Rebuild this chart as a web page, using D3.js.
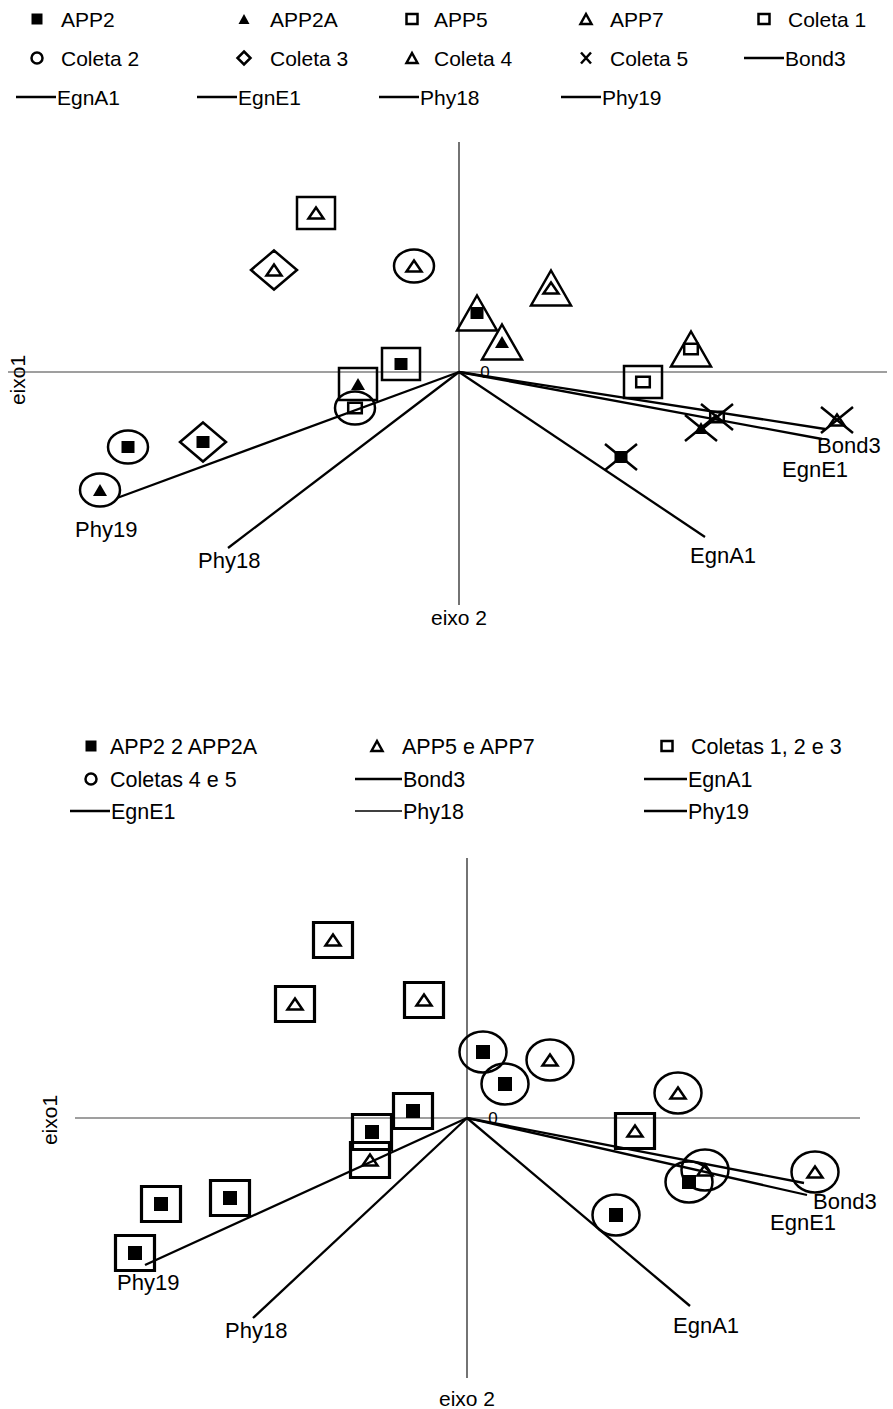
<!DOCTYPE html>
<html><head><meta charset="utf-8">
<script src="https://cdn.jsdelivr.net/npm/d3@7"></script>
<style>html,body{margin:0;padding:0;background:#fff}svg{display:block}text{font-family:"Liberation Sans",Arial,sans-serif;fill:#000}</style>
</head><body>
<script>
// ---------- DATA ----------
// top biplot: samples (inner marker = sample type, outer marker = collection)
const topSample = ["APP7","APP2","APP2A","APP5", "APP7","APP5","APP2","APP2A", "APP7","APP2", "APP2","APP2A","APP7","APP5", "APP2","APP5","APP2A","APP7"];
const topColeta = ["Coleta 1","Coleta 1","Coleta 1","Coleta 1", "Coleta 2","Coleta 2","Coleta 2","Coleta 2", "Coleta 3","Coleta 3", "Coleta 4","Coleta 4","Coleta 4","Coleta 4", "Coleta 5","Coleta 5","Coleta 5","Coleta 5"];
const topEixo2 = [-1.43,-0.58,-1.01,1.84, -0.45,-1.04,-3.31,-3.59, -1.85,-2.56, 0.18,0.43,0.92,2.32, 1.62,2.58,2.42,3.78];
const topEixo1 = [1.59,0.08,-0.12,-0.10, 1.06,-0.36,-0.75,-1.18, 1.02,-0.70, 0.59,0.30,0.84,0.23, -0.85,-0.45,-0.56,-0.48];

// variable vectors
const vecNames = ["Bond3","EgnA1","EgnE1","Phy18","Phy19"];
const topVecX = [3.66, 2.46, 3.63, -2.31, -3.42];
const topVecY = [-0.57, -1.65, -0.67, -1.76, -1.26];

// bottom biplot
const botSample = ["APP7","APP7","APP7","APP2","APP2","APP7","APP2","APP2","APP2","APP7", "APP2","APP2","APP7","APP7","APP7","APP2","APP7","APP2"];
const botGroup = ["Coletas 1, 2 e 3","Coletas 1, 2 e 3","Coletas 1, 2 e 3","Coletas 1, 2 e 3","Coletas 1, 2 e 3","Coletas 1, 2 e 3","Coletas 1, 2 e 3","Coletas 1, 2 e 3","Coletas 1, 2 e 3","Coletas 1, 2 e 3",
                  "Coletas 4 e 5","Coletas 4 e 5","Coletas 4 e 5","Coletas 4 e 5","Coletas 4 e 5","Coletas 4 e 5","Coletas 4 e 5","Coletas 4 e 5"];
const botEixo2 = [-1.34,-1.72,-0.43,-0.54,-0.95,-0.97,-2.37,-3.06,-3.32,1.68, 0.16,0.38,0.83,2.11,2.38,2.22,3.48,1.49];
const botEixo1 = [1.78,1.14,1.18,0.07,-0.14,-0.42,-0.80,-0.86,-1.35,-0.13, 0.66,0.34,0.58,0.25,-0.52,-0.64,-0.54,-0.97];
const botVecX = [3.37, 2.23, 3.40, -2.14, -3.22];
const botVecY = [-0.65, -1.88, -0.77, -2.00, -1.47];

// legends
const topLegendLabels = ["APP2","APP2A","APP5","APP7","Coleta 1","Coleta 2","Coleta 3","Coleta 4","Coleta 5","Bond3","EgnA1","EgnE1","Phy18","Phy19"];
const botLegendLabels = ["APP2 2 APP2A","APP5 e APP7","Coletas 1, 2 e 3","Coletas 4 e 5","Bond3","EgnA1","EgnE1","Phy18","Phy19"];
const axisLabels = ["eixo1","eixo 2","0"];

// ---------- DRAWING ----------
const W = 893, H = 1409;
const svg = d3.select("body").append("svg").attr("width", W).attr("height", H);
svg.append("rect").attr("width", W).attr("height", H).attr("fill", "#fff");

function shapePath(kind, w, h) {
  switch (kind) {
    case "square": return `M${-w},${-h}H${w}V${h}H${-w}Z`;
    case "tri": return `M0,${-h}L${w},${h}L${-w},${h}Z`;
    case "diamond": return `M0,${-h}L${w},0L0,${h}L${-w},0Z`;
    case "x": return `M${-w},${-h}L${w},${h}M${w},${-h}L${-w},${h}`;
  }
}
function drawShape(g, spec) {
  if (spec.kind === "circle") {
    g.append("ellipse").attr("rx", spec.w).attr("ry", spec.h)
      .attr("fill", spec.fill ? "#000" : "none").attr("stroke", "#000").attr("stroke-width", spec.sw || 0);
  } else {
    g.append("path").attr("d", shapePath(spec.kind, spec.w, spec.h))
      .attr("fill", spec.fill ? "#000" : "none").attr("stroke", "#000")
      .attr("stroke-width", spec.sw || 0).attr("stroke-linejoin", "miter");
  }
}

// marker specs
const innerTop = {
  "APP2": {kind:"square", w:6.5, h:6, fill:true},
  "APP2A": {kind:"tri", w:7, h:6, fill:true},
  "APP5": {kind:"square", w:6.8, h:5.3, sw:2.5},
  "APP7": {kind:"tri", w:7.5, h:5.5, sw:2.5}
};
const outerTop = {
  "Coleta 1": {kind:"square", w:19, h:16, sw:2.5},
  "Coleta 2": {kind:"circle", w:20, h:16.5, sw:2.5},
  "Coleta 3": {kind:"diamond", w:23, h:19.5, sw:2.5},
  "Coleta 4": {kind:"tri", w:20, h:17.5, sw:2.5},
  "Coleta 5": {kind:"x", w:16, h:13, sw:2.5}
};
const innerBot = {
  "APP2": {kind:"square", w:7, h:7, fill:true},
  "APP7": {kind:"tri", w:7.5, h:5.5, sw:2.5}
};
const outerBot = {
  "Coletas 1, 2 e 3": {kind:"square", w:19.5, h:17.5, sw:3.2},
  "Coletas 4 e 5": {kind:"circle", w:23.5, h:20.5, sw:2.5}
};

function biplot(cfg) {
  const x = d3.scaleLinear().domain(cfg.xDom).range(cfg.xRange);
  const y = d3.scaleLinear().domain(cfg.yDom).range(cfg.yRange);
  const g = svg.append("g");
  // axes
  g.append("line").attr("x1", x(cfg.xDom[0])).attr("x2", x(cfg.xDom[1]))
    .attr("y1", y(0)).attr("y2", y(0)).attr("stroke", "#7f7f7f").attr("stroke-width", 1.6);
  g.append("line").attr("x1", x(0)).attr("x2", x(0))
    .attr("y1", y(cfg.yDom[0])).attr("y2", y(cfg.yDom[1])).attr("stroke", "#000").attr("stroke-width", 1.1);
  // origin label
  g.append("text").attr("x", x(0) + 26).attr("y", y(0) + 6).attr("text-anchor", "middle")
    .attr("font-size", 17).attr("fill", "#000").text(axisLabels[2]);
  // vectors
  vecNames.forEach((n, i) => {
    g.append("line").attr("x1", x(0)).attr("y1", y(0))
      .attr("x2", x(cfg.vx[i])).attr("y2", y(cfg.vy[i]))
      .attr("stroke", "#000").attr("stroke-width", 2.3);
    const off = cfg.labelOff[n];
    g.append("text").attr("x", x(cfg.vx[i]) + off[0]).attr("y", y(cfg.vy[i]) + off[1])
      .attr("font-size", cfg.labelSize).text(n);
  });
  // points
  cfg.sample.forEach((s, i) => {
    const pg = g.append("g").attr("transform", `translate(${x(cfg.px[i])},${y(cfg.py[i])})`);
    drawShape(pg, cfg.outer[cfg.group[i]]);
    drawShape(pg, cfg.inner[s]);
  });
  // axis titles
  g.append("text").attr("transform", `translate(${cfg.e1[0]},${cfg.e1[1]}) rotate(-90)`)
    .attr("text-anchor", "middle").attr("font-size", cfg.axisSize).text(axisLabels[0]);
  g.append("text").attr("x", x(0)).attr("y", cfg.e2y).attr("text-anchor", "middle")
    .attr("font-size", cfg.axisSize).text(axisLabels[1]);
}

biplot({
  xDom: [-4.51, 4.28], xRange: [8, 887], yDom: [2.30, -2.33], yRange: [142, 605],
  sample: topSample, group: topColeta, px: topEixo2, py: topEixo1,
  vx: topVecX, vy: topVecY, inner: innerTop, outer: outerTop,
  labelOff: {"Bond3":[-8,24], "EgnE1":[-40,38], "EgnA1":[-15,26], "Phy18":[-30,20], "Phy19":[-42,39]},
  labelSize: 22, axisSize: 21, e1: [25, 380], e2y: 625
});
biplot({
  xDom: [-3.92, 3.93], xRange: [75, 860], yDom: [2.60, -2.60], yRange: [858, 1378],
  sample: botSample, group: botGroup, px: botEixo2, py: botEixo1,
  vx: botVecX, vy: botVecY, inner: innerBot, outer: outerBot,
  labelOff: {"Bond3":[9,26], "EgnE1":[-37,35], "EgnA1":[-17,27], "Phy18":[-28,20], "Phy19":[-28,25]},
  labelSize: 22, axisSize: 21, e1: [57, 1120], e2y: 1406
});

// ---------- LEGENDS ----------
const legendSpecs = {
  "APP2": {kind:"square", w:5.5, h:5.5, fill:true},
  "APP2A": {kind:"tri", w:5.5, h:5, fill:true},
  "APP5": {kind:"square", w:5.5, h:5, sw:2.5},
  "APP7": {kind:"tri", w:5.5, h:5, sw:2.5},
  "Coleta 1": {kind:"square", w:5.5, h:5, sw:2.5},
  "Coleta 2": {kind:"circle", w:5.5, h:5.5, sw:2.5},
  "Coleta 3": {kind:"diamond", w:6.5, h:6.5, sw:2.5},
  "Coleta 4": {kind:"tri", w:5.5, h:5, sw:2.5},
  "Coleta 5": {kind:"x", w:5, h:5.5, sw:2.5},
  "APP2 2 APP2A": {kind:"square", w:5.5, h:5.5, fill:true},
  "APP5 e APP7": {kind:"tri", w:5.5, h:5, sw:2.5},
  "Coletas 1, 2 e 3": {kind:"square", w:5.5, h:5, sw:2.5},
  "Coletas 4 e 5": {kind:"circle", w:5.5, h:5.5, sw:2.5}
};
function legend(labels, cols, rows, opts) {
  labels.forEach((lab, i) => {
    const c = i % cols.length, r = Math.floor(i / cols.length);
    const yy = rows[r];
    const col = cols[c];
    const g = svg.append("g");
    if (vecNames.includes(lab)) {
      const lw = (opts.thin && opts.thin.includes(lab)) ? 1.3 : 2.5;
      g.append("line").attr("x1", col.l0).attr("x2", col.l1).attr("y1", yy).attr("y2", yy)
        .attr("stroke", "#000").attr("stroke-width", lw);
      g.append("text").attr("x", col.l1 + 1).attr("y", yy + 7.5).attr("font-size", opts.size).text(lab);
    } else {
      const mg = g.append("g").attr("transform", `translate(${col.m},${yy})`);
      drawShape(mg, legendSpecs[lab]);
      g.append("text").attr("x", col.t).attr("y", yy + 7.5).attr("font-size", opts.size).text(lab);
    }
  });
}
legend(topLegendLabels,
  [{m:37,t:61,l0:16,l1:56},{m:244,t:270,l0:197,l1:237},{m:412,t:434,l0:379,l1:419},{m:586,t:610,l0:561,l1:601},{m:764,t:788,l0:744,l1:784}],
  [19, 58, 97], {size:21});
legend(botLegendLabels,
  [{m:91,t:110,l0:70,l1:110},{m:377,t:402,l0:355,l1:402},{m:667,t:691,l0:644,l1:687}],
  [746, 779, 811], {size:21.5, thin:["Phy18"]});
</script>
</body></html>
